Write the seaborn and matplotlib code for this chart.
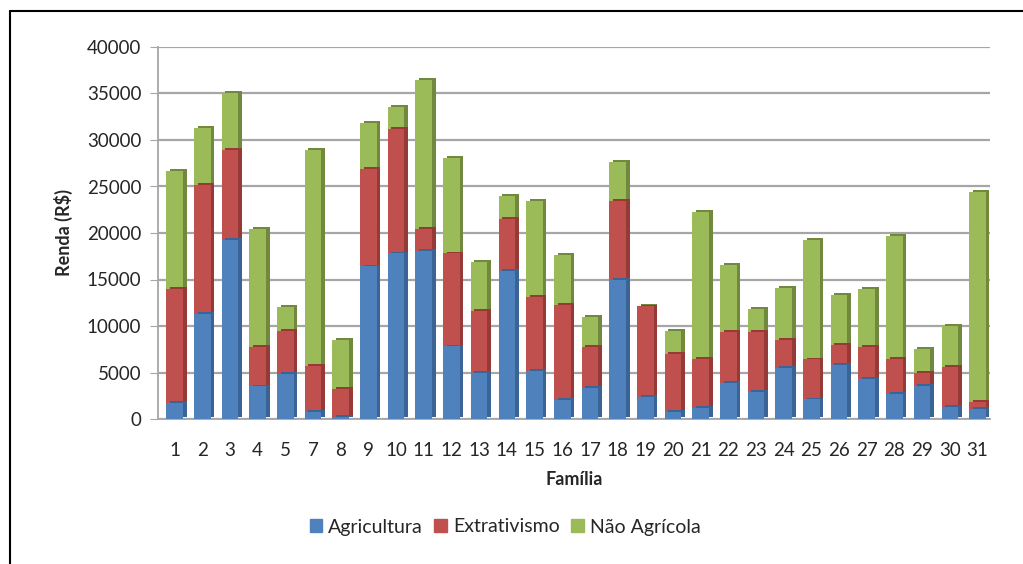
import numpy as np
import pandas as pd
import matplotlib
matplotlib.use("Agg")
import matplotlib.pyplot as plt
import matplotlib.patheffects as pe
from matplotlib.lines import Line2D
from matplotlib.patches import Patch
import seaborn as sns

# familias (sem a 6)
familias = ['1', '2', '3', '4', '5', '7', '8', '9', '10', '11', '12', '13', '14', '15', '16',
            '17', '18', '19', '20', '21', '22', '23', '24', '25', '26', '27', '28', '29', '30', '31']
agricultura = [1700, 11300, 19300, 3500, 4800, 800, 200, 16400, 17800, 18100, 7800, 4900, 15900, 5200, 2000,
               3300, 15000, 2400, 800, 1200, 3900, 2900, 5500, 2100, 5800, 4300, 2700, 3600, 1300, 1100]
extrativismo = [12300, 13900, 9600, 4200, 4700, 4900, 3000, 10500, 13400, 2300, 10000, 6700, 5600, 7900, 10300,
                4400, 8400, 9700, 6200, 5300, 5500, 6500, 3000, 4300, 2200, 3400, 3800, 1400, 4300, 700]
nao_agricola = [12700, 6100, 6200, 12700, 2500, 23200, 5300, 4900, 2400, 16100, 10300, 5300, 2500, 10300, 5300,
                3300, 4200, 100, 2500, 15800, 7200, 2400, 5600, 12800, 5300, 6300, 13200, 2500, 4400, 22600]

cores = ['#4F81BD', '#C0504D', '#9BBB59']
sombras = ['#3A6496', '#953A37', '#71893F']

df = pd.DataFrame({'Familia': familias, 'Agricultura': agricultura,
                   'Extrativismo': extrativismo, 'Nao Agricola': nao_agricola})
df['ate_extr'] = df['Agricultura'] + df['Extrativismo']
df['total'] = df['ate_extr'] + df['Nao Agricola']

sns.set_style('white')
plt.rcParams['font.family'] = ['Lato', 'DejaVu Sans']

fig = plt.figure(figsize=(10.23, 5.64), dpi=100)
ax = fig.add_axes([158/1023, 1-419/564, (990-158)/1023, (419-47)/564])

# empilhado: desenha o total primeiro e vai cobrindo
colunas = ['total', 'ate_extr', 'Agricultura']
for col, c, s in zip(colunas, cores[::-1], sombras[::-1]):
    n0 = len(ax.patches)
    sns.barplot(data=df, x='Familia', y=col, color=c, width=0.6, saturation=1,
                linewidth=0, ax=ax, zorder=3)
    # lateral escura imitando o 3D do excel
    for p in ax.patches[n0:]:
        p.set_path_effects([pe.SimplePatchShadow(offset=(2.6, 1.4), shadow_rgbFace=s, alpha=1), pe.Normal()])

ax.set_ylim(0, 40000)
ax.set_xlim(-0.6, 29.45)
ax.set_yticks(np.arange(0, 40001, 5000))
ax.yaxis.grid(True, color='#A6A6A6', linewidth=1.6, zorder=0)
ax.set_axisbelow(True)

for s in ['top', 'right']:
    ax.spines[s].set_visible(False)
ax.spines['left'].set_color('#A6A6A6')
ax.spines['left'].set_linewidth(1.3)
ax.spines['bottom'].set_color('#A6A6A6')
ax.spines['bottom'].set_linewidth(1.3)
ax.tick_params(axis='y', left=True, length=6, color='#A6A6A6', labelsize=13.5, pad=6, labelcolor='#262626')
ax.tick_params(axis='x', bottom=False, labelsize=13.5, pad=13, labelcolor='#262626')

ax.set_ylabel('Renda (R$)', fontsize=13, fontweight='bold', labelpad=10)
ax.set_xlabel('Família', fontsize=13, fontweight='bold', labelpad=9)

handles = [Patch(color=c) for c in cores]
fig.legend(handles, ['Agricultura', 'Extrativismo', 'Não Agrícola'], loc='center',
           bbox_to_anchor=(505/1023, 1-527/564), ncol=3, frameon=False, fontsize=14,
           handlelength=0.65, handleheight=0.65, handletextpad=0.3, columnspacing=0.6)

# moldura (so topo e esquerda aparecem)
fig.add_artist(Line2D([10/1023, 10/1023], [0, 1-11/564], color='black', linewidth=1.5))
fig.add_artist(Line2D([10/1023, 1], [1-11/564, 1-11/564], color='black', linewidth=1.5))

fig.savefig('out.png', dpi=100)
